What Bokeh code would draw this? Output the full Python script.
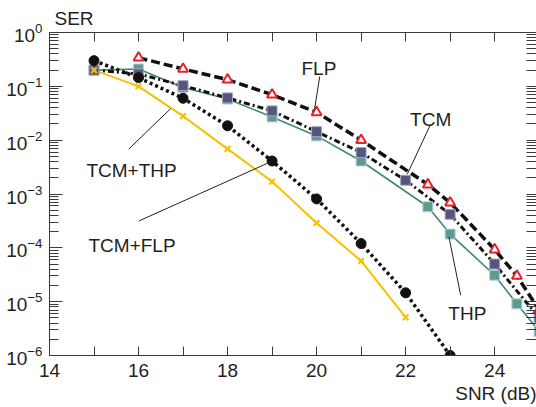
from bokeh.plotting import figure
from bokeh.models import FixedTicker, LinearAxis, LogAxis, Label, Title
from bokeh.embed import file_html
from bokeh.resources import INLINE

# ---- data (SNR in dB, SER) ----
snr_flp = [16, 17, 18, 19, 20, 21, 22.5, 23, 24, 24.5, 25]
ser_flp = [0.34, 0.21, 0.133, 0.07, 0.033, 0.01, 0.0015, 6.9e-4, 9.3e-5, 3.0e-5, 7.0e-6]

snr_tcm = [15, 16, 17, 18, 19, 20, 21, 22, 23, 24, 25]
ser_tcm = [0.2, 0.17, 0.103, 0.061, 0.035, 0.0144, 0.0059, 0.0018, 4.2e-4, 5.0e-5, 5.0e-6]

snr_thp = [15, 16, 17, 18, 19, 20, 21, 22.5, 23, 24, 24.5, 25]
ser_thp = [0.2, 0.21, 0.095, 0.058, 0.027, 0.012, 0.0041, 5.8e-4, 1.8e-4, 3.1e-5, 9.1e-6, 2.8e-6]

snr_tcm_flp = [15, 16, 17, 18, 19, 20, 21, 22, 23]
ser_tcm_flp = [0.3, 0.145, 0.06, 0.0185, 0.0041, 8.1e-4, 1.2e-4, 1.46e-5, 1.0e-6]

snr_tcm_thp = [15, 16, 17, 18, 19, 20, 21, 22]
ser_tcm_thp = [0.2, 0.1, 0.028, 0.0069, 0.0017, 2.9e-4, 5.7e-5, 5.1e-6]

x_major = [14, 16, 18, 20, 22, 24]
x_minor = [15, 17, 19, 21, 23, 25]
y_major = [10.0 ** e for e in range(-6, 1)]
y_minor = [k * 10.0 ** e for e in range(-6, 0) for k in range(2, 10)]

# annotation texts: (text, x, log10 y of baseline), leader (x1, logy1, x2, logy2)
annotations = [
    ("FLP", 19.66, -0.670, (20.07, -0.819, 19.955, -1.421)),
    ("TCM", 22.10, -1.620, (22.546, -1.732, 22.038, -2.631)),
    ("THP", 22.96, -5.214, (23.236, -4.879, 22.973, -3.799)),
    ("TCM+THP", 14.83, -2.570, (15.78, -2.166, 16.72, -1.415)),
    ("TCM+FLP", 14.876, -3.948, (16.007, -3.501, 18.92, -2.421)),
]

FONT = "Liberation Sans"
TXT = "#231f20"
AX = "#3a3a3a"
FS = "19px"

p = figure(width=536, height=407, x_range=(14, 24.94), y_range=(1e-6, 1),
           y_axis_type="log", output_backend="svg", toolbar_location=None,
           min_border_left=49, min_border_right=0, min_border_top=32,
           min_border_bottom=52, background_fill_color="white",
           border_fill_color="white", outline_line_color=None)
p.xgrid.visible = False
p.ygrid.visible = False

p.title.text = "SER"
p.title.align = "left"
p.title.offset = 5
p.title.standoff = 7
p.title.text_font = FONT
p.title.text_font_size = FS
p.title.text_font_style = "normal"
p.title.text_color = TXT

xt = FixedTicker(ticks=x_major, minor_ticks=x_minor)
yt = FixedTicker(ticks=y_major, minor_ticks=y_minor)
xt_top = FixedTicker(ticks=[], minor_ticks=x_major + x_minor)
yt_right = FixedTicker(ticks=[], minor_ticks=y_major + y_minor)

p.xaxis.ticker = xt
p.yaxis.ticker = yt
for ax in p.xaxis:
    ax.major_tick_in = 9
    ax.major_tick_out = 0
    ax.minor_tick_in = 9
    ax.minor_tick_out = 0
    ax.major_label_standoff = 8
for ax in p.yaxis:
    ax.major_tick_in = 13
    ax.major_tick_out = 0
    ax.minor_tick_in = 9
    ax.minor_tick_out = 0
    ax.major_label_standoff = 7
for ax in list(p.xaxis) + list(p.yaxis):
    ax.axis_line_color = AX
    ax.major_tick_line_color = AX
    ax.minor_tick_line_color = AX
    ax.major_label_text_font = FONT
    ax.major_label_text_font_size = FS
    ax.major_label_text_color = TXT

top = LinearAxis(ticker=xt_top, major_tick_in=0, major_tick_out=0, minor_tick_in=9,
                 minor_tick_out=0, major_label_standoff=0, axis_line_color=AX,
                 major_tick_line_color=AX, minor_tick_line_color=AX)
p.add_layout(top, "above")
right = LogAxis(ticker=yt_right, major_tick_in=0, major_tick_out=0, minor_tick_in=10,
                minor_tick_out=0, major_label_standoff=0, axis_line_color=AX,
                major_tick_line_color=AX, minor_tick_line_color=AX)
p.add_layout(right, "right")

xlabel = Title(text="SNR (dB)", align="right", offset=0, standoff=2,
               text_font=FONT, text_font_size=FS, text_font_style="normal",
               text_color=TXT)
p.add_layout(xlabel, "below")

# ---- lines ----
p.line(snr_thp, ser_thp, line_color="#3f8a6c", line_width=1.6)
p.line(snr_tcm, ser_tcm, line_color="#111111", line_width=3, line_dash="6 3 2 3")
p.line(snr_flp, ser_flp, line_color="#111111", line_width=3.5, line_dash="9 4")
p.line(snr_tcm_flp, ser_tcm_flp, line_color="#111111", line_width=3.5, line_dash="3 3")
p.line(snr_tcm_thp, ser_tcm_thp, line_color="#f7c100", line_width=2)

# ---- markers ----
p.scatter(snr_thp, ser_thp, marker="square", size=10, fill_color="#5f9994",
          line_color="#b9d2cf", line_width=1)
p.scatter(snr_tcm, ser_tcm, marker="square", size=10, fill_color="#56557f",
          line_color="#a5a5c0", line_width=1)
p.scatter(snr_flp, ser_flp, marker="triangle", size=10, fill_color="white",
          line_color="#e8202a", line_width=2)
p.scatter(snr_tcm_flp, ser_tcm_flp, marker="circle", size=10, fill_color="#111111",
          line_color="#111111")
p.scatter(snr_tcm_thp, ser_tcm_thp, marker="x", size=8, line_color="#f7c100",
          line_width=2.2)

# ---- annotations ----
for text, x, ly, (x1, ly1, x2, ly2) in annotations:
    p.add_layout(Label(x=x, y=10 ** ly, text=text, text_font=FONT,
                       text_font_size=FS, text_color=TXT,
                       text_baseline="alphabetic", text_align="left"))
    p.segment(x0=[x1], y0=[10 ** ly1], x1=[x2], y1=[10 ** ly2],
              line_color="#222222", line_width=1)

open("out.html", "w").write(file_html(p, INLINE))
